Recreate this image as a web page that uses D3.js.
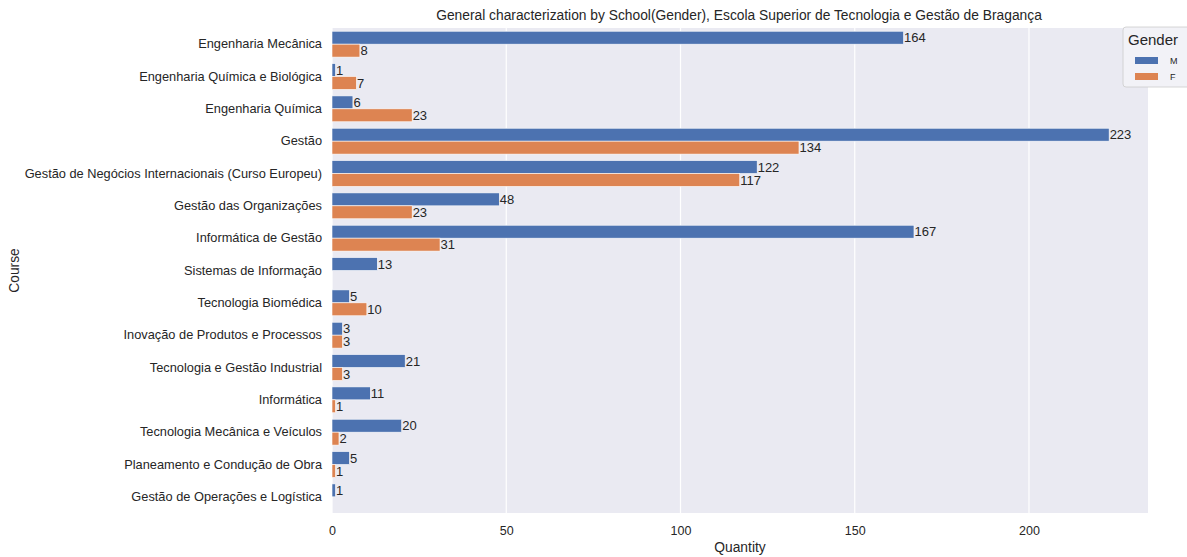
<!DOCTYPE html>
<html><head><meta charset="utf-8">
<script src="https://cdn.jsdelivr.net/npm/d3@7"></script>
<style>body{margin:0;background:#fff;} text{font-family:"Liberation Sans",Arial,sans-serif;}</style>
</head><body><svg id="c" width="1187" height="557"></svg>
<script>
const courses = ["Engenharia Mecânica","Engenharia Química e Biológica","Engenharia Química","Gestão","Gestão de Negócios Internacionais (Curso Europeu)","Gestão das Organizações","Informática de Gestão","Sistemas de Informação","Tecnologia Biomédica","Inovação de Produtos e Processos","Tecnologia e Gestão Industrial","Informática","Tecnologia Mecânica e Veículos","Planeamento e Condução de Obra","Gestão de Operações e Logística"];
const genders = ["M","F"];
const valuesM = [164,1,6,223,122,48,167,13,5,3,21,11,20,5,1];
const valuesF = [8,7,23,134,117,23,31,null,10,3,3,1,2,1,null];
const xTicks = [0,50,100,150,200];
const colors = {M:"#4c72b0",F:"#dd8452"};

const svg = d3.select("#c");
const L=332, R=1148, T=28, B=513;
const x = d3.scaleLinear().domain([0, 223*1.05]).range([L,R]);
const y = d3.scaleBand().domain(courses).range([T,B]).paddingInner(0.2).paddingOuter(0.1);
const yh = d3.scaleBand().domain(genders).range([0,y.bandwidth()]);

svg.append("rect").attr("x",L).attr("y",T).attr("width",R-L).attr("height",B-T).attr("fill","#eaeaf2");
svg.append("g").selectAll("line").data(xTicks).join("line")
  .attr("x1",d=>x(d)).attr("x2",d=>x(d)).attr("y1",T).attr("y2",B)
  .attr("stroke","#fff").attr("stroke-width",1.2);

const data=[];
courses.forEach((c,i)=>{
  if(valuesM[i]!=null) data.push({c,g:"M",v:valuesM[i]});
  if(valuesF[i]!=null) data.push({c,g:"F",v:valuesF[i]});
});
const bars = svg.append("g");
bars.selectAll("rect").data(data).join("rect")
  .attr("x",x(0)).attr("y",d=>y(d.c)+yh(d.g))
  .attr("width",d=>x(d.v)-x(0)).attr("height",yh.bandwidth())
  .attr("fill",d=>colors[d.g]).attr("stroke","#fff").attr("stroke-width",0.6);
bars.selectAll("text").data(data).join("text")
  .attr("x",d=>x(d.v)+0.5).attr("y",d=>y(d.c)+yh(d.g)+yh.bandwidth()/2)
  .attr("dy","0.36em").attr("font-size",13).attr("fill","#262626").text(d=>d.v);

const xa = svg.append("g").attr("transform",`translate(0,${B})`)
  .call(d3.axisBottom(x).tickValues(xTicks).tickSize(0).tickPadding(13));
xa.select(".domain").remove();
xa.selectAll("text").attr("font-size",12.5).attr("fill","#262626").attr("font-family","Liberation Sans, Arial, sans-serif");

const ya = svg.append("g").attr("transform",`translate(${L},0)`)
  .call(d3.axisLeft(y).tickSize(0).tickPadding(10));
ya.select(".domain").remove();
ya.selectAll("text").attr("font-size",12.8).attr("fill","#262626").attr("font-family","Liberation Sans, Arial, sans-serif");

svg.append("text").attr("x",(L+1146)/2).attr("y",20).attr("text-anchor","middle")
  .attr("font-size",13.8).attr("fill","#262626").text("General characterization by School(Gender), Escola Superior de Tecnologia e Gestão de Bragança");
svg.append("text").attr("x",740).attr("y",552).attr("text-anchor","middle")
  .attr("font-size",13.8).attr("fill","#262626").text("Quantity");
svg.append("text").attr("transform",`translate(19,${(T+B)/2}) rotate(-90)`).attr("text-anchor","middle")
  .attr("font-size",13.8).attr("fill","#262626").text("Course");

const lg = svg.append("g");
lg.append("rect").attr("x",1123).attr("y",27).attr("width",70).attr("height",60).attr("rx",3)
  .attr("fill","#f2f2f7").attr("stroke","#cccccc").attr("stroke-width",0.8);
lg.append("text").attr("x",1128).attr("y",45).attr("font-size",15).attr("fill","#262626").text("Gender");
genders.forEach((g,i)=>{
  lg.append("rect").attr("x",1135).attr("y",57+i*16).attr("width",23).attr("height",7).attr("fill",colors[g]);
  lg.append("text").attr("x",1170).attr("y",64+i*16).attr("font-size",9).attr("fill","#262626").text(g);
});
</script></body></html>
